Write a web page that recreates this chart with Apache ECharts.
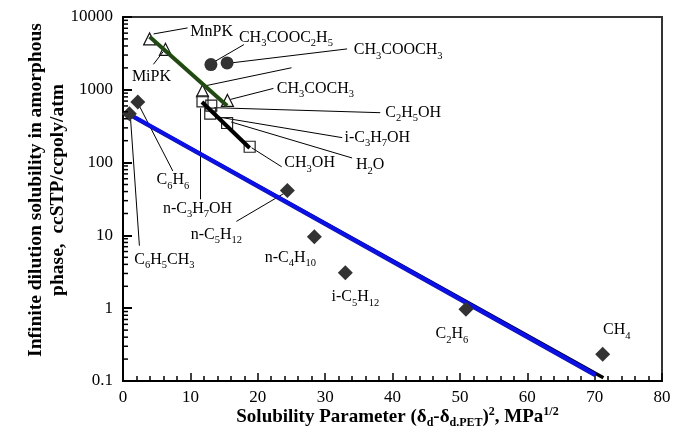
<!DOCTYPE html>
<html>
<head>
<meta charset="utf-8">
<script src="https://cdn.jsdelivr.net/npm/echarts@6/dist/echarts.min.js"></script>
<style>
  html, body { margin: 0; padding: 0; background: #fff; }
  #chart { width: 674px; height: 438px; }
</style>
</head>
<body>
<div id="chart"></div>
<script>
// Ketones (open triangles); the third one only carries a leader line
const ketoneNames = ['MnPK', 'MiPK', '', 'CH3COCH3'];
const ketoneX = [3.95, 6.3, 11.8, 15.5];
const ketoneY = [5000, 3600, 970, 715];

// Esters (filled circles)
const esterNames = ['CH3COOC2H5', 'CH3COOCH3'];
const esterX = [13.05, 15.45];
const esterY = [2220, 2340];

// Alcohols and water (open squares)
const alcoholNames = ['n-C3H7OH', 'C2H5OH', 'i-C3H7OH', 'H2O', 'CH3OH'];
const alcoholX = [11.8, 13.1, 12.95, 15.45, 18.8];
const alcoholY = [695, 605, 470, 350, 165];

// Hydrocarbons (filled diamonds)
const hydrocarbonNames = ['C6H5CH3', 'C6H6', 'n-C5H12', 'n-C4H10', 'i-C5H12', 'C2H6', 'CH4'];
const hydrocarbonX = [0.95, 2.2, 24.4, 28.4, 33.0, 50.9, 71.2];
const hydrocarbonY = [470, 680, 41.5, 9.6, 3.06, 0.97, 0.233];

// Correlation lines (end points)
const ketoneFitX = [3.95, 15.45];
const ketoneFitY = [5350, 605];
const alcoholFitX = [11.72, 18.8];
const alcoholFitY = [681, 159];
const hcFitBlackX = [1.0, 71.3];
const hcFitBlackY = [456, 0.111];
const hcFitBlueX = [1.0, 70.1];
const hcFitBlueY = [456, 0.121];

// Axis ticks
const xTicks = [0, 10, 20, 30, 40, 50, 60, 70, 80];
const yDecades = [0.1, 1, 10, 100, 1000, 10000];

// Label placement in pixels relative to each point:
// text = centre offset of the label, line = [x1, y1, x2, y2] leader line
const placement = {
  'MnPK':       { text: [62, -7],   line: [4, -5, 38, -11] },
  'MiPK':       { text: [-14, 27],  line: [-2, 2, -12, 15] },
  '':           { line: [3, -5, 89, -23] },
  'CH3COCH3':   { text: [88, -12],  line: [3, -1, 46, -12] },
  'CH3COOC2H5': { text: [75, -27],  line: [2, -2, 33, -20] },
  'CH3COOCH3':  { text: [171, -13], line: [4, 0, 120, -14] },
  'n-C3H7OH':   { text: [-5, 107],  line: [-2, 7, -2, 98] },
  'C2H5OH':     { text: [202, 7],   line: [3, 2, 169, 7] },
  'i-C3H7OH':   { text: [167, 24],  line: [6, 3, 132, 24] },
  'H2O':        { text: [143, 42],  line: [4, -1, 125, 35] },
  'CH3OH':      { text: [60, 16],   line: [2, 1, 32, 20] },
  'C6H5CH3':    { text: [35, 146],  line: [1, 3, 10, 132] },
  'C6H6':       { text: [35, 78],   line: [0, 1, 35, 69] },
  'n-C5H12':    { text: [-71, 44],  line: [0, 1, -51, 31] },
  'n-C4H10':    { text: [-24, 21] },
  'i-C5H12':    { text: [10, 24] },
  'C2H6':       { text: [-14, 25] },
  'CH4':        { text: [14, -24] }
};

const SERIF = 'Liberation Serif, Times New Roman, serif';

// chemical formula -> rich text with subscripted digits
function formula(name) {
  return name.replace(/(\d+)/g, '{s|$1}');
}

const labelRich = {
  s: { fontFamily: SERIF, fontSize: 10.5, lineHeight: 10, padding: [12, 0, 0, 0], color: '#000' }
};

function pointData(names, xs, ys) {
  return names.map((n, i) => {
    const p = placement[n] || {};
    return {
      name: n,
      value: [xs[i], ys[i]],
      label: p.text ? { show: true, offset: p.text } : { show: false }
    };
  });
}

const pointLabel = {
  show: true,
  position: 'inside',
  fontFamily: SERIF,
  fontSize: 16,
  lineHeight: 19,
  color: '#000',
  formatter: (p) => formula(p.name),
  rich: labelRich
};

// leader lines
const leaderItems = [];
[[ketoneNames, ketoneX, ketoneY], [esterNames, esterX, esterY],
 [alcoholNames, alcoholX, alcoholY], [hydrocarbonNames, hydrocarbonX, hydrocarbonY]]
  .forEach(([names, xs, ys]) => {
    names.forEach((n, i) => {
      if (placement[n] && placement[n].line) {
        leaderItems.push({ name: n, value: [xs[i], ys[i]] });
      }
    });
  });

// minor ticks of the log axis at 2..9 within each decade
const yMinorTicks = [];
yDecades.slice(0, -1).forEach((d) => {
  for (let m = 2; m <= 9; m++) yMinorTicks.push([0, +(m * d).toPrecision(3)]);
});

function pairs(xs, ys) { return xs.map((x, i) => [x, ys[i]]); }

const chart = echarts.init(document.getElementById('chart'), null, { renderer: 'canvas' });

chart.setOption({
  animation: false,
  backgroundColor: '#fff',
  grid: {
    left: 123, right: 12, top: 17, bottom: 57,
    show: true, borderColor: '#333', borderWidth: 2, backgroundColor: 'transparent'
  },
  xAxis: {
    type: 'value',
    min: 0, max: 80, interval: 10,
    name: 'Solubility Parameter (δ{bs|d}-δ{bs|d.PET}){bu|2}, MPa{bu|1/2}',
    nameLocation: 'middle',
    nameGap: 25,
    nameMoveOverlap: false,
    nameTextStyle: {
      fontFamily: SERIF, fontSize: 19, fontWeight: 'bold', color: '#000',
      lineHeight: 22, padding: [0, 0, 0, 10],
      rich: {
        bs: { fontFamily: SERIF, fontSize: 12, fontWeight: 'bold', lineHeight: 12, padding: [12, 0, 0, 0], color: '#000' },
        bu: { fontFamily: SERIF, fontSize: 12, fontWeight: 'bold', lineHeight: 12, padding: [0, 0, 10, 0], color: '#000' }
      }
    },
    axisLine: { show: true, lineStyle: { color: '#000', width: 2 } },
    axisTick: { show: true, inside: true, length: 8, lineStyle: { color: '#000', width: 1.5 } },
    minorTick: { show: true, splitNumber: 5, length: 5, lineStyle: { color: '#000', width: 1.5 } },
    splitLine: { show: false },
    axisLabel: {
      fontFamily: SERIF, fontSize: 17, color: '#000', margin: 8,
      formatter: (v) => xTicks.includes(v) ? String(v) : ''
    }
  },
  yAxis: {
    type: 'log',
    logBase: 10,
    min: yDecades[0], max: yDecades[yDecades.length - 1],
    name: 'Infinite dilution solubility in amorphous\nphase,  ccSTP/ccpoly/atm',
    nameLocation: 'middle',
    nameRotate: 90,
    nameGap: 54,
    nameMoveOverlap: false,
    nameTextStyle: {
      fontFamily: SERIF, fontSize: 19.5, fontWeight: 'bold', color: '#000',
      lineHeight: 22, padding: [0, 0, 0, 18]
    },
    axisLine: { show: true, lineStyle: { color: '#000', width: 2 } },
    axisTick: { show: true, inside: true, length: 9, lineStyle: { color: '#000', width: 2 } },
    splitLine: { show: false },
    axisLabel: {
      fontFamily: SERIF, fontSize: 17, color: '#000', margin: 10,
      formatter: (v) => String(+(+v).toPrecision(6))
    }
  },
  series: [
    {
      name: 'log minor ticks',
      type: 'custom',
      silent: true,
      z: 5,
      encode: { x: 0, y: 1 },
      data: yMinorTicks,
      renderItem: (params, api) => {
        const p = api.coord([0, api.value(1)]);
        const x0 = params.coordSys.x;
        return {
          type: 'line',
          shape: { x1: x0, y1: p[1], x2: x0 + 5, y2: p[1] },
          style: { stroke: '#000', lineWidth: 1.5 }
        };
      }
    },
    {
      name: 'leaders',
      type: 'custom',
      silent: true,
      z: 1,
      encode: { x: 0, y: 1 },
      data: leaderItems,
      renderItem: (params, api) => {
        const p = api.coord([api.value(0), api.value(1)]);
        const l = placement[leaderItems[params.dataIndex].name].line;
        return {
          type: 'line',
          shape: { x1: p[0] + l[0], y1: p[1] + l[1], x2: p[0] + l[2], y2: p[1] + l[3] },
          style: { stroke: '#000', lineWidth: 1 }
        };
      }
    },
    {
      name: 'ketones',
      type: 'scatter',
      z: 2,
      symbol: 'triangle',
      symbolSize: [12, 12],
      itemStyle: { color: 'rgba(255,255,255,0)', borderColor: '#111', borderWidth: 1.2, opacity: 1 },
      label: pointLabel,
      data: pointData(ketoneNames, ketoneX, ketoneY)
    },
    {
      name: 'esters',
      type: 'scatter',
      z: 2,
      symbol: 'circle',
      symbolSize: 13,
      itemStyle: { color: '#333', opacity: 1 },
      label: pointLabel,
      data: pointData(esterNames, esterX, esterY)
    },
    {
      name: 'alcohols',
      type: 'scatter',
      z: 2,
      symbol: 'rect',
      symbolSize: 11,
      itemStyle: { color: 'rgba(255,255,255,0)', borderColor: '#222', borderWidth: 1.2, opacity: 1 },
      label: pointLabel,
      data: pointData(alcoholNames, alcoholX, alcoholY)
    },
    {
      name: 'hc fit (black)',
      type: 'line',
      z: 3,
      silent: true,
      symbol: 'none',
      lineStyle: { color: '#000', width: 3.5 },
      data: pairs(hcFitBlackX, hcFitBlackY)
    },
    {
      name: 'hc fit',
      type: 'line',
      z: 3,
      silent: true,
      symbol: 'none',
      lineStyle: { color: '#0a10e6', width: 4.5 },
      data: pairs(hcFitBlueX, hcFitBlueY)
    },
    {
      name: 'ketone fit',
      type: 'line',
      z: 3,
      silent: true,
      symbol: 'none',
      lineStyle: { color: '#1f4a10', width: 4 },
      data: pairs(ketoneFitX, ketoneFitY)
    },
    {
      name: 'alcohol fit',
      type: 'line',
      z: 3,
      silent: true,
      symbol: 'none',
      lineStyle: { color: '#000', width: 4 },
      data: pairs(alcoholFitX, alcoholFitY)
    },
    {
      name: 'hydrocarbons',
      type: 'scatter',
      z: 4,
      symbol: 'diamond',
      symbolSize: 15,
      itemStyle: { color: '#333', opacity: 1 },
      label: pointLabel,
      data: pointData(hydrocarbonNames, hydrocarbonX, hydrocarbonY)
    }
  ]
});
</script>
</body>
</html>
